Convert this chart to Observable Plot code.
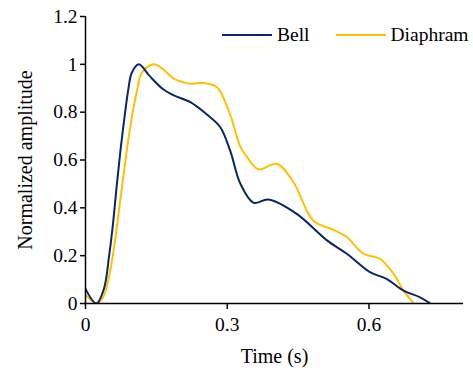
<!DOCTYPE html>
<html>
<head>
<meta charset="utf-8">
<script src="https://cdn.jsdelivr.net/npm/d3@7"></script>
<script src="https://cdn.jsdelivr.net/npm/@observablehq/plot@0.6"></script>
<style>
  body { margin: 0; background: #fff; }
  #wrap { position: relative; width: 473px; height: 370px; font-family: "Liberation Serif", "Times New Roman", serif; }
  #wrap svg text { font-family: "Liberation Serif", "Times New Roman", serif !important; font-variant: normal !important; }
  #legend { position: absolute; left: 222px; top: 24px; font-size: 19.5px; color: #000; display: flex; align-items: center; }
  #legend .sw { display: inline-block; width: 50px; height: 2px; margin-right: 5px; }
  #legend .item { display: flex; align-items: center; margin-right: 26px; }
</style>
</head>
<body>
<div id="wrap"></div>
<script>
const seriesNames = ["Bell", "Diaphram"];
const seriesColors = ["#0b2566", "#ffc000"];

const bellTime = [0, 0.023, 0.039, 0.05, 0.058, 0.066, 0.074, 0.082, 0.091, 0.098, 0.113, 0.1345, 0.163, 0.187, 0.222, 0.257, 0.285, 0.306, 0.328, 0.356, 0.387, 0.447, 0.511, 0.553, 0.602, 0.637, 0.673, 0.708, 0.730];
const bellAmp  = [0.061, 0.0, 0.061, 0.20, 0.33, 0.49, 0.64, 0.77, 0.90, 0.965, 1.0, 0.954, 0.898, 0.87, 0.842, 0.79, 0.738, 0.64, 0.50, 0.421, 0.435, 0.375, 0.264, 0.208, 0.131, 0.103, 0.054, 0.026, 0.0];

const diaTime = [0, 0.025, 0.039, 0.053, 0.064, 0.073, 0.082, 0.091, 0.10, 0.11, 0.12, 0.1437, 0.163, 0.187, 0.222, 0.25, 0.278, 0.306, 0.328, 0.342, 0.366, 0.405, 0.44, 0.482, 0.525, 0.553, 0.588, 0.623, 0.652, 0.673, 0.695];
const diaAmp  = [0.036, 0.0, 0.033, 0.145, 0.285, 0.424, 0.56, 0.69, 0.80, 0.90, 0.968, 1.0, 0.982, 0.94, 0.919, 0.922, 0.905, 0.79, 0.654, 0.612, 0.561, 0.584, 0.508, 0.347, 0.308, 0.278, 0.208, 0.187, 0.124, 0.054, 0.0];

const xTicks = [0, 0.3, 0.6];
const yTicks = [0, 0.2, 0.4, 0.6, 0.8, 1, 1.2];
const xLabel = "Time (s)";
const yLabel = "Normalized amplitude";

const bell = bellTime.map((t, i) => ({t, v: bellAmp[i], s: seriesNames[0]}));
const dia = diaTime.map((t, i) => ({t, v: diaAmp[i], s: seriesNames[1]}));
const serif = "'Liberation Serif', 'Times New Roman', serif";

const chart = Plot.plot({
  width: 473,
  height: 370,
  marginLeft: 85,
  marginRight: 10,
  marginTop: 16,
  marginBottom: 67,
  style: { fontFamily: serif, fontSize: "19px", color: "#000", background: "#fff" },
  x: { domain: [0, 0.8] },
  y: { domain: [0, 1.2] },
  marks: [
    Plot.axisX({ ticks: xTicks, tickSize: 6, tickPadding: 8, tickFormat: d => String(d), label: null, stroke: "#000", strokeWidth: 1.5, fontSize: 19.5, fontFamily: serif, fill: "#000" }),
    Plot.axisY({ ticks: yTicks, tickSize: 5, tickPadding: 3, tickFormat: d => String(d), label: null, stroke: "#000", strokeWidth: 1.5, fontSize: 19.5, fontFamily: serif, fill: "#000" }),
    Plot.text([xLabel], { frameAnchor: "bottom", dy: 59, fontSize: 20, fontFamily: serif, fill: "#000" }),
    Plot.text([yLabel], { frameAnchor: "left", dx: -60, rotate: -90, textAnchor: "middle", fontSize: 20, fontFamily: serif, fill: "#000" }),
    Plot.line(dia, { x: "t", y: "v", stroke: seriesColors[1], strokeWidth: 2, curve: "catmull-rom", clip: true }),
    Plot.line(bell, { x: "t", y: "v", stroke: seriesColors[0], strokeWidth: 2, curve: "catmull-rom", clip: true }),
    Plot.ruleY([0], { stroke: "#000", strokeWidth: 1.5 }),
    Plot.ruleX([0], { stroke: "#000", strokeWidth: 1.5 })
  ]
});

const wrap = document.getElementById("wrap");
wrap.appendChild(chart);
const legend = document.createElement("div");
legend.id = "legend";
seriesNames.forEach((name, i) => {
  const item = document.createElement("span");
  item.className = "item";
  const sw = document.createElement("span");
  sw.className = "sw";
  sw.style.background = seriesColors[i];
  item.appendChild(sw);
  item.appendChild(document.createTextNode(name));
  legend.appendChild(item);
});
wrap.appendChild(legend);
</script>
</body>
</html>
